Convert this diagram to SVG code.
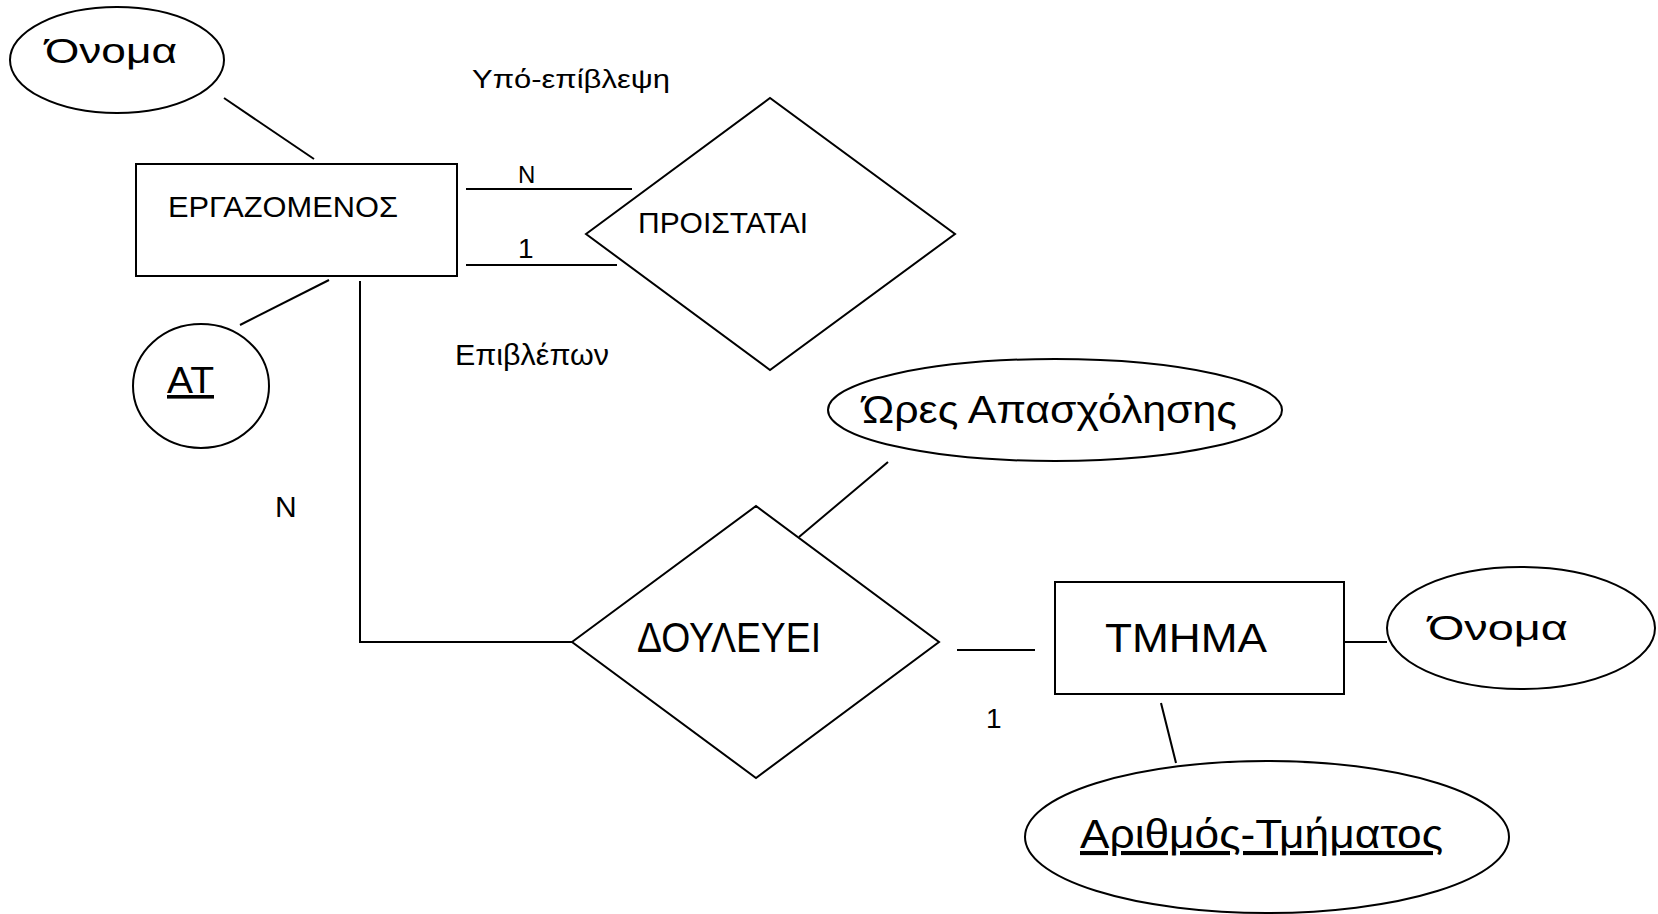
<svg xmlns="http://www.w3.org/2000/svg" width="1658" height="914" viewBox="0 0 1658 914">
<style>
  .shape { fill: #fff; stroke: #000; stroke-width: 2; }
  .conn line, .conn polyline { stroke: #000; stroke-width: 2; fill: none; }
  text { font-family: "Liberation Sans", Arial, sans-serif; fill: #000; }
  .ul { text-decoration: underline; }
</style>
<rect width="1658" height="914" fill="#fff"/>

<g id="connectors" class="conn">
  <line x1="224" y1="98" x2="314" y2="159"/>
  <line x1="240" y1="325" x2="329" y2="280"/>
  <line x1="466" y1="189" x2="632" y2="189"/>
  <line x1="466" y1="265" x2="617" y2="265"/>
  <polyline points="360,281 360,642 572,642"/>
  <line x1="799" y1="537" x2="888" y2="462"/>
  <line x1="957" y1="650" x2="1035" y2="650"/>
  <line x1="1344" y1="642" x2="1387" y2="642"/>
  <line x1="1161" y1="703" x2="1176" y2="763"/>
</g>

<g id="labels">
  <text x="472" y="88" font-size="25" font-family="DejaVu Sans, sans-serif" textLength="198" lengthAdjust="spacingAndGlyphs">Υπό-επίβλεψη</text>
  <text x="455" y="365" font-size="29" textLength="154" lengthAdjust="spacingAndGlyphs">Επιβλέπων</text>
  <text x="518" y="183" font-size="24">N</text>
  <text x="518" y="258" font-size="28">1</text>
  <text x="275" y="517" font-size="30">N</text>
  <text x="986" y="728" font-size="28">1</text>
</g>

<g id="name1">
  <ellipse class="shape" cx="117" cy="60" rx="107" ry="53"/>
  <text x="45" y="63" font-size="35" textLength="132" lengthAdjust="spacingAndGlyphs">Όνομα</text>
</g>

<g id="employee">
  <rect class="shape" x="136" y="164" width="321" height="112"/>
  <text x="168" y="217" font-size="30" textLength="230" lengthAdjust="spacingAndGlyphs">ΕΡΓΑΖΟΜΕΝΟΣ</text>
</g>

<g id="at">
  <ellipse class="shape" cx="201" cy="386" rx="68" ry="62"/>
  <text class="ul" x="167" y="393" font-size="36" textLength="47" lengthAdjust="spacingAndGlyphs">AT</text>
</g>

<g id="supervises">
  <polygon class="shape" points="586,234 770,98 955,234 770,370"/>
  <text x="638" y="233" font-size="30" textLength="170" lengthAdjust="spacingAndGlyphs">ΠΡΟΙΣΤΑΤΑΙ</text>
</g>

<g id="hours">
  <ellipse class="shape" cx="1055" cy="410" rx="227" ry="51"/>
  <text x="862" y="423" font-size="39" textLength="375" lengthAdjust="spacingAndGlyphs">Ώρες Απασχόλησης</text>
</g>

<g id="works">
  <polygon class="shape" points="572,642 756,506 939,642 756,778"/>
  <text x="637" y="652" font-size="42" textLength="184" lengthAdjust="spacingAndGlyphs">ΔΟΥΛΕΥΕΙ</text>
</g>

<g id="department">
  <rect class="shape" x="1055" y="582" width="289" height="112"/>
  <text x="1105" y="652" font-size="40" textLength="162" lengthAdjust="spacingAndGlyphs">TMHMA</text>
</g>

<g id="name2">
  <ellipse class="shape" cx="1521" cy="628" rx="134" ry="61"/>
  <text x="1428" y="640" font-size="35" textLength="140" lengthAdjust="spacingAndGlyphs">Όνομα</text>
</g>

<g id="deptno">
  <ellipse class="shape" cx="1267" cy="837" rx="242" ry="76"/>
  <text class="ul" x="1080" y="848" font-size="41" textLength="363" lengthAdjust="spacingAndGlyphs">Αριθμός-Τμήματος</text>
</g>
</svg>
